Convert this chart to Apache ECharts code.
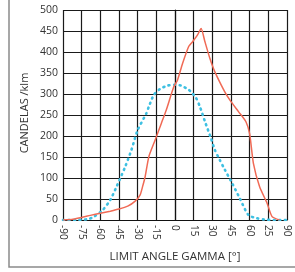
<!DOCTYPE html>
<html><head><meta charset="utf-8">
<script src="https://cdn.jsdelivr.net/npm/echarts@6/dist/echarts.min.js"></script>
<style>html,body{margin:0;padding:0;background:#fff}#c{width:295px;height:272px}</style>
</head><body><div id="c"></div>
<script>
var xTicks = [-90,-75,-60,-45,-30,-15,0,15,30,45,60,75,90];
var xTickLabels = ['-90','-75','-60','-45','-30','-15','0','15','30','45','60','25','90'];
var redAngles = [-90,-82,-75,-68,-60,-52,-45,-38,-32,-28,-26,-24,-21,-16,-11,-7,-1,2,6,11,14,18,21,24,28,31,34,40,44,51,57,60,63,68,74,78,84];
var redValues = [0,2,6,11,16,21,26,33,45,60,80,103,151,190,230,262,317,333,372,413,424,440,456,425,385,360,340,305,286,258,234,205,135,79,40,8,0];
var blueAngles = [-90,-80,-70,-65,-58,-52,-47,-40,-35,-30,-23,-21,-17,-12,-6,0,5,10,13,17,20,24,29,32,36,40,46,52,59,66,72,80,90];
var blueValues = [0,0,2,8,24,48,79,127,167,214,254,270,298,312,320,322,320,312,305,290,270,235,194,167,143,120,87,52,12,4,1,0,0];

function pairs(a,b){return a.map(function(v,i){return [v,b[i]];});}
var font = '"Open Sans", "Noto Sans", sans-serif';
var chart = echarts.init(document.getElementById('c'));
chart.setOption({
  animation:false,
  grid:{left:63,right:8,top:10,bottom:52,show:false},
  xAxis:{type:'value',min:-90,max:90,interval:15,
    axisLine:{lineStyle:{color:'#111',width:1.2}},
    axisTick:{show:false},
    splitLine:{show:true,lineStyle:{color:'#1a1a1a',width:1.2}},
    axisLabel:{rotate:-90,margin:5,fontSize:10,fontFamily:font,color:'#333',
      formatter:function(v){var i=xTicks.indexOf(v);return i>=0?xTickLabels[i]:'';}}
  },
  yAxis:{type:'value',min:0,max:500,interval:50,
    axisLine:{show:true,lineStyle:{color:'#111',width:1.2}},
    axisTick:{show:false},
    splitLine:{show:true,lineStyle:{color:'#1a1a1a',width:1.2}},
    axisLabel:{margin:5,fontSize:10.5,fontFamily:font,color:'#333'}
  },
  series:[
    {type:'line',data:pairs(blueAngles,blueValues),showSymbol:false,smooth:0.25,
      lineStyle:{color:'#3ec0e2',width:2.6,type:[1,4.5],cap:'round'}},
    {type:'line',data:pairs(redAngles,redValues),showSymbol:false,smooth:0.2,
      lineStyle:{color:'#f06a55',width:1.5}}
  ],
  graphic:[
    {type:'rect',shape:{x:9,y:-10,width:400,height:277},style:{fill:'none',stroke:'#8a8a8a',lineWidth:1.5},silent:true},
    {type:'text',x:25,y:113,rotation:Math.PI/2,style:{text:'CANDELAS /klm',font:'11px '+font,fill:'#333',textAlign:'center',textVerticalAlign:'middle'}},
    {type:'text',x:175,y:257,style:{text:'LIMIT ANGLE GAMMA [°]',font:'11.5px '+font,fill:'#333',textAlign:'center',textVerticalAlign:'middle'}}
  ]
});
</script></body></html>
